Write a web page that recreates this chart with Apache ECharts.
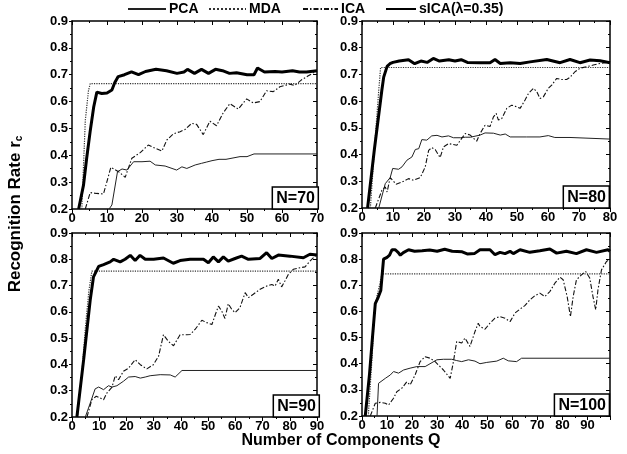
<!DOCTYPE html>
<html>
<head>
<meta charset="utf-8">
<script src="https://cdn.jsdelivr.net/npm/echarts@6/dist/echarts.min.js"></script>
<style>html,body{margin:0;padding:0;background:#fff;}#c{width:627px;height:454px;}</style>
</head>
<body>
<div id="c"></div>
<script>
// ---- data: [Q, recognition rate] ----
const sica70 = [[1.9,0.2],[3.3,0.29],[4.2,0.39],[5.2,0.49],[6.2,0.58],[7.1,0.635],[8.5,0.63],[10,0.632],[11.4,0.643],[12.2,0.67],[13.2,0.693],[15,0.70],[17,0.711],[19,0.70],[21,0.712],[24,0.72],[27,0.715],[30,0.705],[32,0.71],[33,0.72],[35,0.705],[37,0.72],[39,0.705],[41,0.72],[43,0.715],[45,0.705],[47,0.707],[50,0.70],[52,0.70],[53,0.725],[55,0.71],[58,0.712],[60,0.71],[63,0.715],[65,0.71],[67,0.71],[70,0.715]];
const mda70 = [[2.8,0.2],[3.8,0.53],[4.7,0.64],[5.2,0.667],[70,0.667]];
const ica70 = [[3.8,0.2],[5.2,0.261],[7,0.258],[9,0.256],[11.1,0.355],[13.3,0.339],[15.2,0.318],[17.1,0.389],[19.5,0.41],[21.8,0.438],[23.8,0.426],[25.7,0.416],[27.1,0.457],[29,0.48],[30.9,0.488],[32.3,0.496],[34.2,0.519],[35.6,0.515],[37.5,0.477],[39.4,0.527],[41.3,0.51],[43.2,0.558],[45.1,0.592],[47.5,0.572],[49.9,0.61],[51.8,0.595],[53.7,0.60],[55.6,0.64],[57.5,0.637],[59.4,0.655],[62.2,0.665],[63.6,0.66],[65.5,0.68],[67.4,0.695],[70,0.715]];
const pca70 = [[10.6,0.2],[11.4,0.215],[13,0.339],[14.3,0.349],[15.7,0.345],[17.6,0.376],[20,0.376],[22.3,0.378],[23.8,0.364],[26.6,0.36],[29.9,0.345],[31.4,0.357],[32.8,0.351],[35.2,0.364],[37,0.37],[38.5,0.375],[40,0.38],[42,0.385],[44,0.385],[46,0.39],[48,0.395],[50,0.395],[52,0.405],[70,0.405]];

const sica80 = [[1.8,0.2],[4,0.42],[6.4,0.641],[7,0.69],[8.1,0.73],[9,0.74],[10,0.745],[12,0.75],[15,0.755],[17,0.74],[19,0.75],[21,0.745],[23,0.76],[25,0.75],[28,0.755],[30,0.75],[32,0.755],[34,0.745],[38.1,0.744],[41.3,0.744],[42.9,0.756],[44.6,0.741],[47.8,0.744],[51,0.741],[54.2,0.747],[59.6,0.756],[63.9,0.744],[67.1,0.756],[70.3,0.744],[73.6,0.754],[76.8,0.751],[80,0.744]];
const mda80 = [[2.7,0.2],[4,0.42],[5.4,0.64],[6,0.726],[80,0.726]];
const ica80 = [[4.3,0.2],[6.4,0.266],[7.5,0.279],[8.1,0.26],[9.1,0.314],[11,0.289],[12.9,0.297],[15,0.31],[16.6,0.304],[18.8,0.314],[20.4,0.354],[21.5,0.416],[22.5,0.426],[23.6,0.419],[25.2,0.389],[26.3,0.429],[27.9,0.441],[30.6,0.435],[33.3,0.479],[34.9,0.473],[37,0.45],[38.1,0.479],[39.7,0.51],[41.3,0.505],[42.4,0.541],[43.3,0.554],[44,0.529],[45.1,0.535],[46.7,0.573],[48.3,0.585],[49.9,0.579],[51,0.573],[52.6,0.604],[53.7,0.629],[55.3,0.648],[56.4,0.635],[57.4,0.61],[58.5,0.616],[60.1,0.648],[61.2,0.66],[62.8,0.685],[64.4,0.681],[66,0.681],[67.1,0.689],[68.7,0.71],[70.3,0.723],[72.5,0.729],[74.6,0.735],[76.8,0.741],[80,0.747]];
const pca80 = [[5.4,0.2],[7.5,0.291],[9.1,0.314],[9.9,0.348],[11.8,0.345],[12.9,0.354],[14.5,0.379],[16.1,0.391],[17.2,0.419],[18.3,0.422],[19.3,0.456],[20.9,0.454],[22.5,0.47],[24.2,0.472],[25.8,0.466],[27.9,0.47],[29.5,0.463],[31.7,0.463],[33.3,0.465],[35,0.465],[38.1,0.473],[39.7,0.481],[42.4,0.48],[44.6,0.473],[46.2,0.477],[47.8,0.466],[53.1,0.466],[57.4,0.466],[60.1,0.471],[62.2,0.464],[67.1,0.464],[67.6,0.458],[80,0.458]];

const sica90 = [[1.8,0.2],[4.3,0.42],[6.7,0.646],[7.9,0.733],[9.8,0.773],[11.6,0.78],[14,0.79],[15.3,0.80],[17.7,0.79],[19.5,0.80],[21.4,0.815],[23.2,0.795],[25,0.815],[26.9,0.80],[30,0.80],[33.6,0.805],[37.2,0.785],[39.7,0.795],[43.4,0.80],[46,0.80],[48.3,0.80],[50.1,0.787],[51.9,0.809],[53.8,0.79],[55.6,0.809],[57.4,0.793],[59.9,0.803],[62.3,0.812],[64.8,0.80],[69.1,0.803],[71.5,0.825],[73.4,0.803],[75.8,0.816],[80.1,0.812],[85,0.806],[87.4,0.819],[90,0.816]];
const mda90 = [[2,0.2],[3.5,0.35],[5,0.55],[6.2,0.68],[7.3,0.755],[90,0.755]];
const ica90 = [[5.5,0.2],[7.3,0.266],[8.9,0.279],[10.4,0.272],[11.6,0.266],[12.8,0.291],[14.7,0.314],[15.9,0.357],[17.1,0.342],[18.9,0.374],[20.8,0.386],[23.2,0.418],[25.1,0.399],[27.5,0.383],[29.9,0.399],[31.8,0.431],[33.6,0.513],[35.4,0.488],[37.3,0.471],[39.7,0.513],[42.2,0.513],[43.4,0.514],[45.2,0.533],[47.7,0.568],[49.5,0.559],[51.4,0.552],[52.6,0.588],[53.8,0.622],[55,0.603],[56.2,0.575],[57.4,0.631],[58.7,0.609],[59.9,0.597],[61.7,0.616],[63.6,0.673],[64.8,0.654],[66.6,0.667],[69.1,0.686],[71.5,0.698],[73.4,0.704],[74.6,0.698],[75.8,0.724],[77,0.695],[78.2,0.717],[79.5,0.743],[81.3,0.762],[83.8,0.768],[85.6,0.771],[87.4,0.793],[90,0.819]];
const pca90 = [[4.9,0.2],[6.7,0.253],[8.5,0.307],[9.8,0.314],[11.6,0.304],[13.4,0.319],[14.7,0.314],[16.5,0.319],[18.9,0.336],[20.8,0.352],[23.2,0.354],[25.1,0.348],[26.9,0.352],[28.7,0.357],[32.4,0.361],[36.1,0.36],[37.9,0.352],[40.4,0.377],[90,0.377]];

const sica100 = [[1.3,0.2],[3,0.36],[4,0.48],[5.3,0.63],[6.5,0.655],[7.5,0.68],[8.6,0.80],[10,0.807],[11,0.815],[12,0.836],[13.3,0.836],[14.5,0.825],[15.3,0.815],[16.5,0.825],[18.6,0.836],[21,0.83],[24,0.832],[27,0.835],[30,0.83],[33,0.838],[36,0.83],[40,0.828],[42,0.82],[45,0.822],[47.1,0.836],[51.1,0.836],[53.1,0.817],[55.1,0.826],[57.1,0.821],[59.1,0.83],[60.4,0.821],[63.1,0.836],[67,0.826],[71,0.832],[75,0.839],[77.7,0.823],[81.6,0.83],[85.6,0.821],[89.6,0.836],[93.6,0.826],[98.2,0.836],[99,0.83]];
const mda100 = [[2.5,0.2],[4,0.42],[5,0.6],[6,0.66],[7,0.7],[8,0.744],[99,0.744]];
const ica100 = [[3.3,0.2],[5.3,0.249],[7.3,0.252],[9.3,0.249],[10.6,0.242],[12.6,0.268],[13.9,0.293],[15.9,0.306],[17.9,0.331],[19.2,0.319],[21.2,0.357],[23.2,0.408],[25.2,0.427],[27.2,0.421],[29.2,0.408],[32.5,0.376],[35.2,0.344],[36.5,0.408],[37.8,0.485],[39.8,0.479],[41.1,0.498],[43.1,0.466],[45.1,0.523],[46.4,0.555],[47.1,0.542],[49.1,0.532],[51.1,0.555],[53.1,0.574],[55.1,0.58],[57.1,0.574],[59.1,0.561],[61.1,0.594],[63.1,0.609],[65,0.622],[67,0.644],[69,0.66],[71,0.67],[73,0.657],[75,0.676],[77,0.708],[79,0.731],[80.3,0.721],[81.9,0.657],[83.2,0.58],[84.3,0.657],[85.6,0.721],[87.6,0.74],[89.3,0.753],[90.9,0.728],[92.2,0.657],[93.3,0.606],[94.2,0.683],[95.6,0.759],[97.6,0.791],[99,0.80]];
const pca100 = [[6,0.2],[6.6,0.325],[9.3,0.344],[11.3,0.357],[12.6,0.37],[14.6,0.364],[16.6,0.376],[19.2,0.383],[21.9,0.389],[25.2,0.389],[29.9,0.415],[32.5,0.417],[35.8,0.417],[37.8,0.412],[39.8,0.408],[42.5,0.415],[45.1,0.41],[47.1,0.40],[49.8,0.405],[53.8,0.41],[56.4,0.421],[58.4,0.411],[61.7,0.408],[63.7,0.421],[99,0.421]];

const panelLabels = ['N=70', 'N=80', 'N=90', 'N=100'];
const xMax = [70, 80, 90, 99];
const yTicks = [0.2, 0.9, 0.1]; // min, max, interval
const seriesNames = ['PCA', 'MDA', 'ICA', 'sICA(\u03bb=0.35)'];

// ---- layout / styling ----
const FONT = 'Liberation Sans';
const grids = [
  {left: 72, top: 21, width: 245, height: 188},
  {left: 362, top: 21, width: 248, height: 187},
  {left: 72, top: 233, width: 245, height: 184},
  {left: 362, top: 233, width: 248, height: 183}
];
const styles = [
  {color: '#222', width: 1, type: 'solid'},
  {color: '#333', width: 1.2, type: 'dotted'},
  {color: '#111', width: 1.1, type: [5, 2, 1.5, 2]},
  {color: '#000', width: 3, type: 'solid'}
];
const panelData = [
  [pca70, mda70, ica70, sica70],
  [pca80, mda80, ica80, sica80],
  [pca90, mda90, ica90, sica90],
  [pca100, mda100, ica100, sica100]
];
const labelBoxes = [
  {right: 308, bottom: 245},
  {right: 17, bottom: 246},
  {right: 307, bottom: 37},
  {right: 17, bottom: 38}
];

const lblStyle = {color: '#000', fontFamily: FONT, fontWeight: 'bold', fontSize: 13};
const xAxis = [], yAxis = [], series = [];
grids.forEach((g, i) => {
  const common = {
    type: 'value', gridIndex: i, min: 0, max: xMax[i], interval: 10,
    splitLine: {show: false},
    axisLine: {show: true, onZero: false, lineStyle: {color: '#000', width: 1.5}},
    minorTick: {show: true, splitNumber: 2, length: 2, lineStyle: {color: '#000'}}
  };
  xAxis.push(Object.assign({}, common, {
    position: 'bottom',
    axisTick: {show: true, inside: false, length: 4, lineStyle: {color: '#000'}},
    axisLabel: Object.assign({margin: 3, showMaxLabel: xMax[i] % 10 === 0}, lblStyle)
  }));
  xAxis.push(Object.assign({}, common, {
    position: 'top',
    axisTick: {show: true, inside: true, length: 4, lineStyle: {color: '#000'}},
    minorTick: {show: true, splitNumber: 2, length: 2, lineStyle: {color: '#000'}},
    axisLabel: {show: false}
  }));
  const ycommon = {
    type: 'value', gridIndex: i, min: yTicks[0], max: yTicks[1], interval: yTicks[2],
    splitLine: {show: false},
    axisLine: {show: true, onZero: false, lineStyle: {color: '#000', width: 1.5}},
    minorTick: {show: true, splitNumber: 2, length: 2, lineStyle: {color: '#000'}}
  };
  yAxis.push(Object.assign({}, ycommon, {
    position: 'left',
    axisTick: {show: true, inside: false, length: 3, lineStyle: {color: '#000'}},
    axisLabel: Object.assign({margin: 4, formatter: v => v.toFixed(1)}, lblStyle)
  }));
  yAxis.push(Object.assign({}, ycommon, {
    position: 'right',
    axisTick: {show: true, inside: true, length: 4, lineStyle: {color: '#000'}},
    axisLabel: {show: false}
  }));
  panelData[i].forEach((d, k) => {
    series.push({
      name: seriesNames[k], type: 'line', data: d,
      xAxisIndex: i * 2, yAxisIndex: i * 2,
      symbol: 'none', showSymbol: false, clip: true,
      lineStyle: styles[k], itemStyle: {color: styles[k].color},
      z: k === 3 ? 4 : 3
    });
  });
});

const legendPos = [
  {left: 127, w: 38}, {left: 208, w: 37}, {left: 302, w: 35}, {left: 385, w: 30}
];
const legend = seriesNames.map((n, k) => ({
  data: [n], left: legendPos[k].left, top: 2, itemWidth: legendPos[k].w, itemHeight: 14,
  padding: 0, selectedMode: false,
  itemStyle: {opacity: 0},
  lineStyle: {opacity: 1},
  textStyle: {color: '#000', fontFamily: FONT, fontWeight: 'bold', fontSize: 14, padding: [0, 0, 0, -2]}
}));

const title = panelLabels.map((t, i) => ({
  text: t, right: labelBoxes[i].right, bottom: labelBoxes[i].bottom,
  padding: [3, 4, 2, 4], borderColor: '#000', borderWidth: 1.5, backgroundColor: '#fff',
  textStyle: {color: '#000', fontFamily: FONT, fontWeight: 'bold', fontSize: 16, lineHeight: 17}
}));

const chart = echarts.init(document.getElementById('c'), null, {renderer: 'canvas'});
chart.setOption({
  animation: false,
  backgroundColor: '#fff',
  grid: grids,
  xAxis: xAxis,
  yAxis: yAxis,
  series: series,
  legend: legend,
  title: title,
  graphic: [
    {
      type: 'text', x: 15, y: 214, rotation: Math.PI / 2,
      style: {
        text: '{a|Recognition Rate r}{s|c}',
        align: 'center', verticalAlign: 'middle',
        rich: {
          a: {fontFamily: FONT, fontWeight: 'bold', fontSize: 17, fill: '#000', lineHeight: 19},
          s: {fontFamily: FONT, fontWeight: 'bold', fontSize: 10, fill: '#000', lineHeight: 10, verticalAlign: 'bottom'}
        }
      }
    },
    {
      type: 'text', x: 341, y: 441,
      style: {
        text: 'Number of Components Q', align: 'center', verticalAlign: 'middle',
        fontFamily: FONT, fontWeight: 'bold', fontSize: 16, fill: '#000'
      }
    }
  ]
});
</script>
</body>
</html>
